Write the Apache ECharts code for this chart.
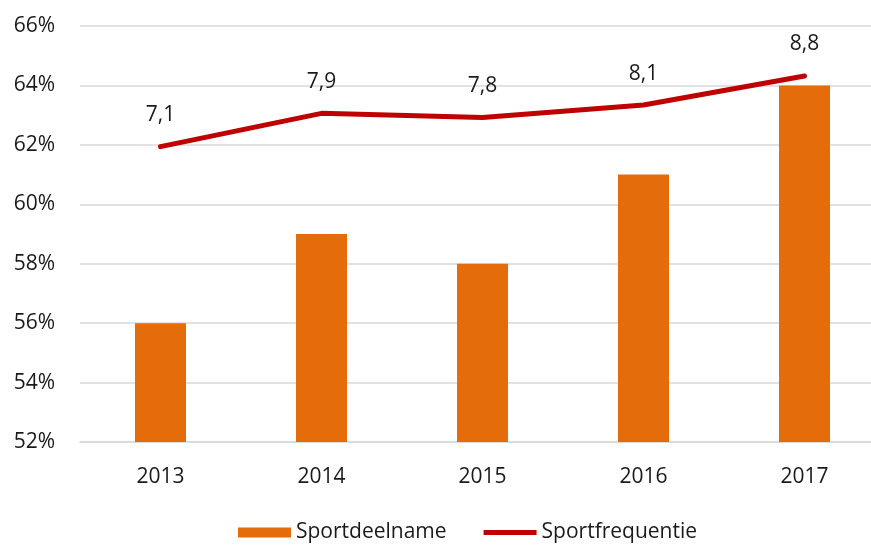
<!DOCTYPE html>
<html>
<head>
<meta charset="utf-8">
<script src="https://cdn.jsdelivr.net/npm/echarts@6/dist/echarts.min.js"></script>
<style>
  html, body { margin: 0; padding: 0; background: #fff; overflow: hidden; }
  #chart { width: 885px; height: 545px; }
</style>
</head>
<body>
<div id="chart"></div>
<script>
var years = ['2013', '2014', '2015', '2016', '2017'];
var deelname = [56, 59, 58, 61, 64];
var frequentie = [7.1, 7.9, 7.8, 8.1, 8.8];

var myChart = echarts.init(document.getElementById('chart'));
var font = '"Open Sans", "Noto Sans", sans-serif';

option = {
    animation: false,
    textStyle: { fontFamily: font },
    grid: {
        left: 80,
        right: 0,
        top: 26,
        bottom: 103
    },
    legend: {
        bottom: -3,
        left: 233,
        itemWidth: 53,
        itemHeight: 10,
        itemGap: 37,
        textStyle: { fontSize: 21, color: '#1a1a1a', fontFamily: font },
        data: [
            { name: 'Sportdeelname', icon: 'rect' },
            { name: 'Sportfrequentie', icon: 'path://M0,0 L11,0 L11,1 L0,1 Z' }
        ]
    },
    xAxis: {
        type: 'category',
        data: years,
        axisLine: { lineStyle: { color: '#d9d9d9', width: 1.5 } },
        axisTick: { show: false },
        axisLabel: { fontSize: 21, color: '#1a1a1a', margin: 25 }
    },
    yAxis: [{
        type: 'value',
        min: 52,
        max: 66,
        interval: 2,
        axisLine: { show: false },
        axisTick: { show: false },
        axisLabel: { fontSize: 21, color: '#1a1a1a', margin: 25, formatter: '{value}%' },
        splitLine: { lineStyle: { color: '#d9d9d9', width: 1.5 } }
    }, {
        type: 'value',
        min: 0,
        max: 10,
        show: false,
        splitLine: { show: false }
    }],
    series: [{
        name: 'Sportdeelname',
        type: 'bar',
        data: deelname,
        barWidth: 51,
        itemStyle: { color: '#e46c0a' }
    }, {
        name: 'Sportfrequentie',
        type: 'line',
        yAxisIndex: 1,
        data: frequentie,
        symbol: 'circle',
        symbolSize: 2,
        lineStyle: { color: '#c00000', width: 5, cap: 'round' },
        itemStyle: { color: '#c00000' },
        label: {
            show: true,
            position: 'top',
            distance: 20,
            fontSize: 21,
            color: '#1a1a1a',
            formatter: function (p) {
                return p.value.toFixed(1).replace('.', ',');
            }
        }
    }]
};

myChart.setOption(option);
</script>
</body>
</html>
